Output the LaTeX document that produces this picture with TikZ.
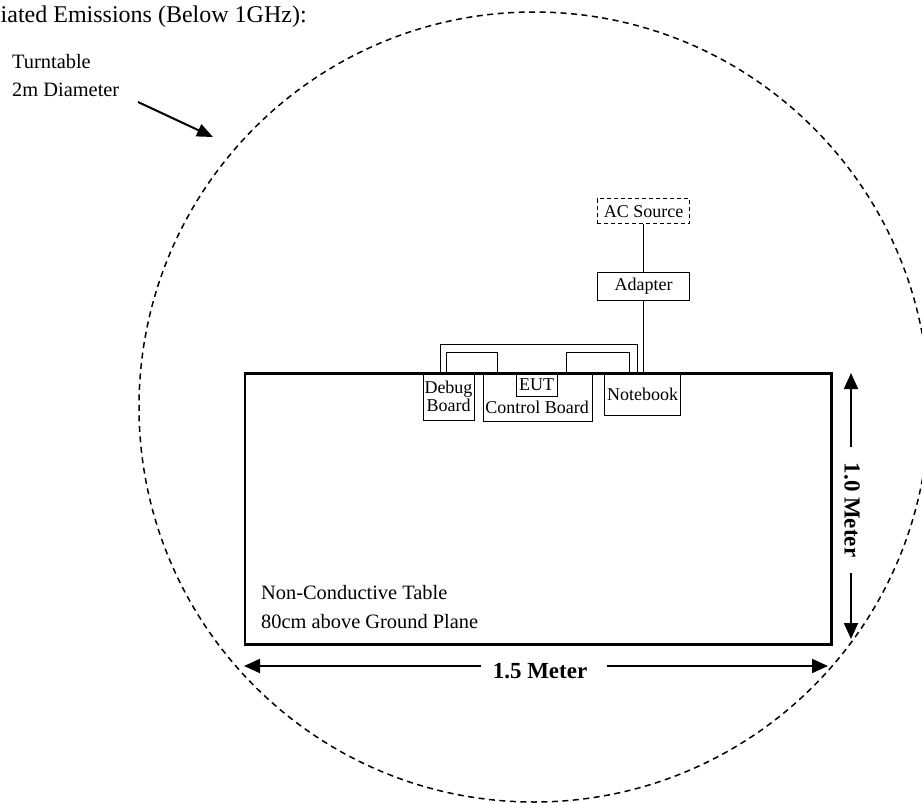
\documentclass[tikz,border=0pt]{standalone}
\usepackage{fontspec}
\setmainfont{Liberation Serif}
\usetikzlibrary{arrows.meta}
\begin{document}
\begin{tikzpicture}[x=1pt,y=-1pt,
  box/.style={draw, line width=1pt, inner sep=0pt, font=\fontsize{18}{18.5}\selectfont, align=center, anchor=north west},
  dimarrow/.style={line width=2pt, -{Triangle[length=16pt,width=14pt]}},
  dimlabel/.style={font=\fontsize{23}{26}\selectfont\bfseries, inner sep=0pt},
  plain/.style={font=\fontsize{20.4}{28}\selectfont, inner sep=0pt, anchor=base west},
  wire/.style={line width=1pt},
  turntable/.style={dashed, dash pattern=on 6pt off 4.5pt, line width=1.5pt}]
\useasboundingbox (0,0) rectangle (922,803);
\clip (0,0) rectangle (922,803);
% title (as printed, cut at the left edge)
\node[font=\fontsize{24}{28}\selectfont, inner sep=0pt, anchor=base west] (title) at (0.5,22) {iated Emissions (Below 1GHz):};
% turntable
\node[plain] (tt1) at (12,68) {Turntable};
\node[plain] (tt2) at (12,96.5) {2m Diameter};
\coordinate (ttA) at (138,102);
\coordinate (ttB) at (213,137);
\draw[line width=2pt, -{Triangle[length=16pt,width=13pt]}] (ttA) -- (ttB);
\draw[turntable] (534,407) circle[radius=395pt];
% table
\node[draw, line width=2.5pt, minimum width=586.5pt, minimum height=271pt, anchor=north west, inner sep=0pt] (table) at (243.5,372) {};
\node[plain] (tabtxt1) at (261,599.3) {Non-Conductive Table};
\node[plain] (tabtxt2) at (261,628.3) {80cm above Ground Plane};
% equipment
\node[box, dashed, dash pattern=on 4pt off 3pt, minimum width=92.6pt, minimum height=25pt] (ac) at (596.7,198.3) {AC Source};
\node[box, minimum width=92.6pt, minimum height=28.3pt] (adapter) at (596.7,271.7) {Adapter};
\node[box, minimum width=51pt, minimum height=48pt] (debug) at (422.5,372) {Debug\\Board};
\node[box, minimum width=109pt, minimum height=48.7pt] (ctrl) at (482.7,372) {};
\node[box, minimum width=41pt, minimum height=23pt] (eut) at (515.7,373) {EUT};
\node[font=\fontsize{18}{18.5}\selectfont, inner sep=0pt, anchor=base] (ctrltxt) at (537.2,413.3) {Control Board};
\node[box, minimum width=75.7pt, minimum height=43pt] (nb) at (604.3,372) {Notebook};
% cables
\draw[wire] (ac) -- (adapter);
\draw[wire] (adapter.south) -- (adapter.south |- table.north);
\coordinate (brA) at (440,372);
\coordinate (brB) at (440,344.3);
\coordinate (brC) at (637,344.3);
\coordinate (brD) at (637,372);
\draw[wire] (brA) -- (brB) -- (brC) -- (brD);
\coordinate (l1A) at (446.7,372);
\coordinate (l1B) at (446.7,352.7);
\coordinate (l1C) at (497.7,352.7);
\coordinate (l1D) at (497.7,372);
\draw[wire] (l1A) -- (l1B) -- (l1C) -- (l1D);
\coordinate (l2A) at (566.7,372);
\coordinate (l2B) at (566.7,352.7);
\coordinate (l2C) at (629.3,352.7);
\coordinate (l2D) at (629.3,372);
\draw[wire] (l2A) -- (l2B) -- (l2C) -- (l2D);
% dimensions
\node[dimlabel, anchor=base] (hlab) at (540,678) {1.5 Meter};
\coordinate (hL) at (244,666);
\coordinate (hLe) at (481,666);
\coordinate (hRs) at (607,666);
\coordinate (hR) at (828,666);
\draw[dimarrow] (hLe) -- (hL);
\draw[dimarrow] (hRs) -- (hR);
\node[dimlabel, rotate=-90] (vlab) at (852,510) {1.0 Meter};
\coordinate (vT) at (851,373);
\coordinate (vTe) at (851,447);
\coordinate (vBs) at (851,573);
\coordinate (vB) at (851,639);
\draw[dimarrow] (vTe) -- (vT);
\draw[dimarrow] (vBs) -- (vB);
\end{tikzpicture}
\end{document}
